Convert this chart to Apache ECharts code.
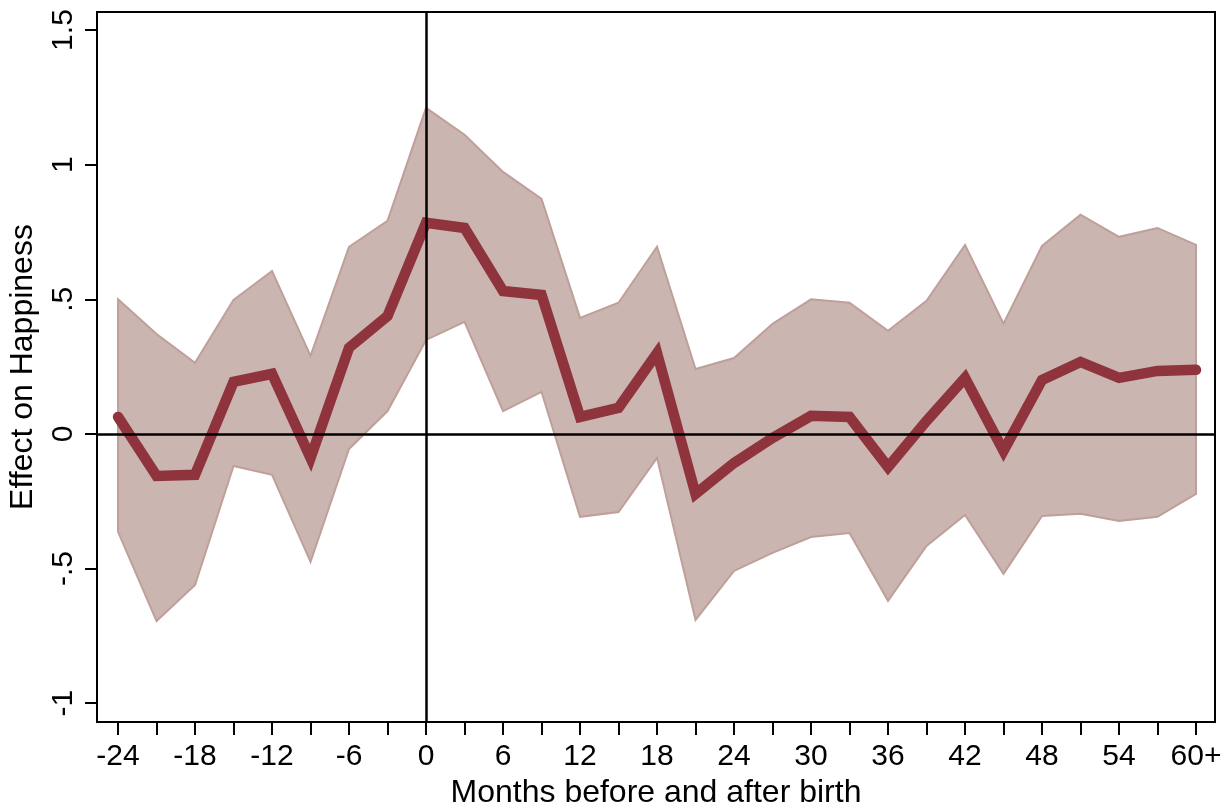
<!DOCTYPE html>
<html>
<head>
<meta charset="utf-8">
<script src="https://cdn.jsdelivr.net/npm/echarts@6/dist/echarts.min.js"></script>
<style>html,body{margin:0;padding:0;background:#fff}#c{width:1231px;height:808px}</style>
</head>
<body>
<div id="c"></div>
<script>
var months = [-24,-21,-18,-15,-12,-9,-6,-3,0,3,6,9,12,15,18,21,24,27,30,33,36,39,42,45,48,51,54,57,60];
var estimate = [0.063,-0.156,-0.152,0.193,0.223,-0.089,0.32,0.438,0.784,0.765,0.531,0.516,0.063,0.097,0.30,-0.223,-0.108,-0.015,0.067,0.063,-0.123,0.048,0.208,-0.063,0.20,0.267,0.208,0.234,0.238];
var upper = [0.50,0.371,0.264,0.498,0.605,0.29,0.695,0.791,1.211,1.111,0.973,0.873,0.431,0.487,0.695,0.241,0.282,0.409,0.50,0.487,0.383,0.494,0.702,0.409,0.698,0.814,0.732,0.765,0.702];
var lower = [-0.364,-0.695,-0.561,-0.119,-0.152,-0.475,-0.056,0.085,0.349,0.416,0.085,0.156,-0.308,-0.29,-0.089,-0.691,-0.509,-0.442,-0.383,-0.368,-0.62,-0.416,-0.301,-0.52,-0.305,-0.297,-0.323,-0.308,-0.223];
var xLabelTicks = [-24,-18,-12,-6,0,6,12,18,24,30,36,42,48,54,60];
var xMinorTicks = [-24,-21,-18,-15,-12,-9,-6,-3,0,3,6,9,12,15,18,21,24,27,30,33,36,39,42,45,48,51,54,57,60];
var yTicks = [-1,-0.5,0,0.5,1,1.5];
var yTickLabels = ['-1','-.5','0','.5','1','1.5'];

var font = '"Liberation Sans", Arial, Helvetica, sans-serif';
var chart = echarts.init(document.getElementById('c'));
var bandData = months.map(function(m,i){return [m, lower[i], upper[i]];});
var estData = months.map(function(m,i){return [m, estimate[i]];});

function renderBand(params, api) {
  if (params.dataIndex !== 0) return null;
  var pts = [];
  for (var i = 0; i < months.length; i++) pts.push(api.coord([months[i], upper[i]]));
  for (var j = months.length - 1; j >= 0; j--) pts.push(api.coord([months[j], lower[j]]));
  return {
    type: 'polygon',
    shape: {points: pts},
    style: {fill: '#cbb5b1', stroke: '#bf9f9a', lineWidth: 2, lineJoin: 'miter'}
  };
}

chart.setOption({
  animation: false,
  grid: {left: 97, right: 16, top: 12, bottom: 86, outerBoundsMode: 'none', containLabel: false,
    show: true, borderColor: '#000', borderWidth: 2, backgroundColor: '#fff'},
  xAxis: {
    type: 'value', min: -25.64, max: 61.48,
    name: 'Months before and after birth', nameLocation: 'middle', nameGap: 54,
    nameTextStyle: {fontFamily: font, fontSize: 32, color: '#000'},
    axisLine: {show: true, onZero: false, lineStyle: {color: '#000', width: 2}},
    axisTick: {show: true, length: 13, customValues: xMinorTicks, lineStyle: {color: '#000', width: 2}},
    axisLabel: {customValues: xLabelTicks, fontFamily: font, fontSize: 30, color: '#000', margin: 20,
      formatter: function(v){ return v === 60 ? '60+' : String(v); }},
    splitLine: {show: false}
  },
  yAxis: {
    type: 'value', min: -1.07, max: 1.567,
    name: 'Effect on Happiness', nameLocation: 'middle', nameGap: 58,
    nameTextStyle: {fontFamily: font, fontSize: 32, color: '#000'},
    axisLine: {show: true, onZero: false, lineStyle: {color: '#000', width: 2}},
    axisTick: {show: true, length: 12, customValues: yTicks, lineStyle: {color: '#000', width: 2}},
    axisLabel: {customValues: yTicks, rotate: 90, fontFamily: font, fontSize: 30, color: '#000', margin: 18,
      formatter: function(v){ var i = yTicks.indexOf(+v.toFixed(2)); return i >= 0 ? yTickLabels[i] : ''; }},
    splitLine: {show: false}
  },
  series: [
    {
      type: 'line', data: [], z: 1, silent: true,
      markLine: {
        silent: true, symbol: ['none','none'], label: {show: false},
        lineStyle: {color: '#000', width: 2.5, type: 'solid'},
        data: [{xAxis: 0}, {yAxis: 0}]
      }
    },
    {
      type: 'custom', data: bandData, z: 2, silent: true,
      renderItem: renderBand,
      encode: {x: 0, y: [1, 2]}
    },
    {
      type: 'line', data: estData, z: 3, symbol: 'none', silent: true,
      lineStyle: {color: '#8f343d', width: 10.5, cap: 'round', join: 'miter'}
    }
  ]
});
</script>
</body>
</html>
